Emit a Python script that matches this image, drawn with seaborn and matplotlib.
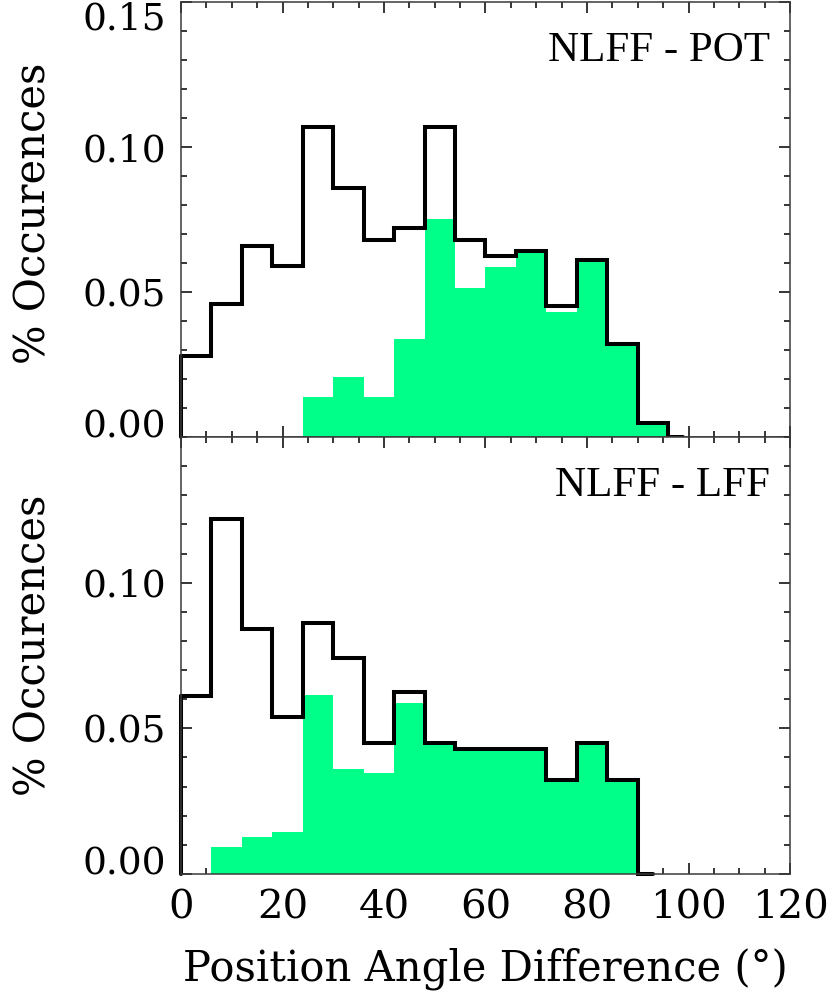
import numpy as np
import pandas as pd
import matplotlib
matplotlib.use("Agg")
import matplotlib.pyplot as plt
from matplotlib.ticker import MultipleLocator, FixedLocator, FormatStrFormatter
import seaborn as sns

# Histogram bins: 6 degree wide, starting at 0
BIN_WIDTH = 6.0

# NLFF - POT: fraction of occurrences per bin (all regions / selected subset)
pot_all = [0.028, 0.046, 0.066, 0.059, 0.107, 0.086, 0.068, 0.072,
           0.107, 0.068, 0.0625, 0.064, 0.045, 0.061, 0.032, 0.005]
pot_sel = [0.0, 0.0, 0.0, 0.0, 0.0137, 0.0206, 0.0137, 0.0337,
           0.075, 0.0513, 0.0587, 0.064, 0.043, 0.061, 0.032, 0.005]

# NLFF - LFF
lff_all = [0.061, 0.122, 0.084, 0.054, 0.086, 0.074, 0.045, 0.0626,
           0.045, 0.043, 0.043, 0.043, 0.0324, 0.045, 0.0324]
lff_sel = [0.0, 0.0094, 0.0126, 0.0145, 0.0615, 0.0361, 0.0347, 0.0586,
           0.045, 0.043, 0.043, 0.043, 0.0324, 0.045, 0.0324]

panel_titles = ["NLFF - POT", "NLFF - LFF"]
x_label = "Position Angle Difference (°)"
y_label = "% Occurences"

GREEN = "#00ff88"
SPINE = "#3a3a3a"

sns.set_style("ticks")
plt.rcParams["font.family"] = ["DejaVu Serif"]
plt.rcParams["mathtext.fontset"] = "dejavuserif"
plt.rcParams["text.color"] = "black"
plt.rcParams["axes.labelcolor"] = "black"
plt.rcParams["xtick.labelcolor"] = "black"
plt.rcParams["ytick.labelcolor"] = "black"

W, H = 833, 996
fig = plt.figure(figsize=(W / 100, H / 100), dpi=100)
ax_top = fig.add_axes([181 / W, 1 - 437 / H, 609 / W, 435 / H])
ax_bot = fig.add_axes([181 / W, 1 - 874 / H, 609 / W, 437 / H])
axes = [ax_top, ax_bot]

for ax, title, v_all, v_sel in zip(axes, panel_titles,
                                   [pot_all, lff_all], [pot_sel, lff_sel]):
    n = len(v_all)
    # regular bins plus a half-width empty bin closing the histogram
    edges = np.append(np.arange(n + 1) * BIN_WIDTH, n * BIN_WIDTH + BIN_WIDTH / 2)
    df = pd.DataFrame({
        "angle": (edges[:-1] + edges[1:]) / 2,
        "all": np.append(v_all, 0.0),
        "sel": np.append(v_sel, 0.0),
    })

    sns.histplot(data=df, x="angle", weights="sel", bins=list(edges),
                 element="step", fill=True, color=GREEN, alpha=1,
                 linewidth=0, ax=ax, zorder=1)
    sns.histplot(data=df, x="angle", weights="all", bins=list(edges),
                 element="step", fill=False, color="black", linewidth=2.9,
                 ax=ax, zorder=3)
    # leading riser of the outline at the first bin edge
    ax.plot([edges[0], edges[0]], [0, v_all[0]], color="black", lw=2.9, zorder=3)
    for ln in ax.lines:
        ln.set_clip_on(False)
        ln.set_solid_joinstyle("miter")

    ax.set_xlim(0, 120)
    ax.set_ylim(0, 0.15)
    ax.xaxis.set_major_locator(MultipleLocator(20))
    ax.xaxis.set_minor_locator(MultipleLocator(5))
    ax.yaxis.set_minor_locator(MultipleLocator(0.01))
    ax.yaxis.set_major_formatter(FormatStrFormatter("%.2f"))

    ax.tick_params(which="both", direction="in", top=True, right=True,
                   width=1.1, color="black")
    ax.tick_params(which="major", length=8)
    ax.tick_params(which="minor", length=4)
    ax.tick_params(axis="y", which="major", labelsize=27, pad=11)
    ax.tick_params(axis="x", which="major", labelsize=29, pad=11)
    for sp in ax.spines.values():
        sp.set_linewidth(1.1)
        sp.set_color(SPINE)
        sp.set_zorder(4)

    ax.set_ylabel(y_label, fontsize=30)
    ax.set_xlabel("")
    ax.text(0.967, 0.865, title, transform=ax.transAxes, ha="right",
            va="baseline", fontsize=31, family="Liberation Serif")

ax_top.yaxis.set_major_locator(FixedLocator([0.0, 0.05, 0.10, 0.15]))
ax_bot.yaxis.set_major_locator(FixedLocator([0.0, 0.05, 0.10]))
ax_top.tick_params(labelbottom=False)
ax_top.yaxis.set_label_coords(-0.208, 0.515)
ax_bot.yaxis.set_label_coords(-0.208, 0.524)

ax_bot.set_xlabel(x_label, fontsize=30, va="top")
ax_bot.xaxis.set_label_coords(0.5, -0.168)

fig.canvas.draw()
# keep the end labels inside their panels
for ax in axes:
    for tick in ax.yaxis.get_major_ticks():
        loc = tick.get_loc()
        if np.isclose(loc, 0.0):
            tick.label1.set_verticalalignment("baseline")
        elif np.isclose(loc, 0.15):
            tick.label1.set_verticalalignment("top")

fig.savefig("out.png", dpi=100)
